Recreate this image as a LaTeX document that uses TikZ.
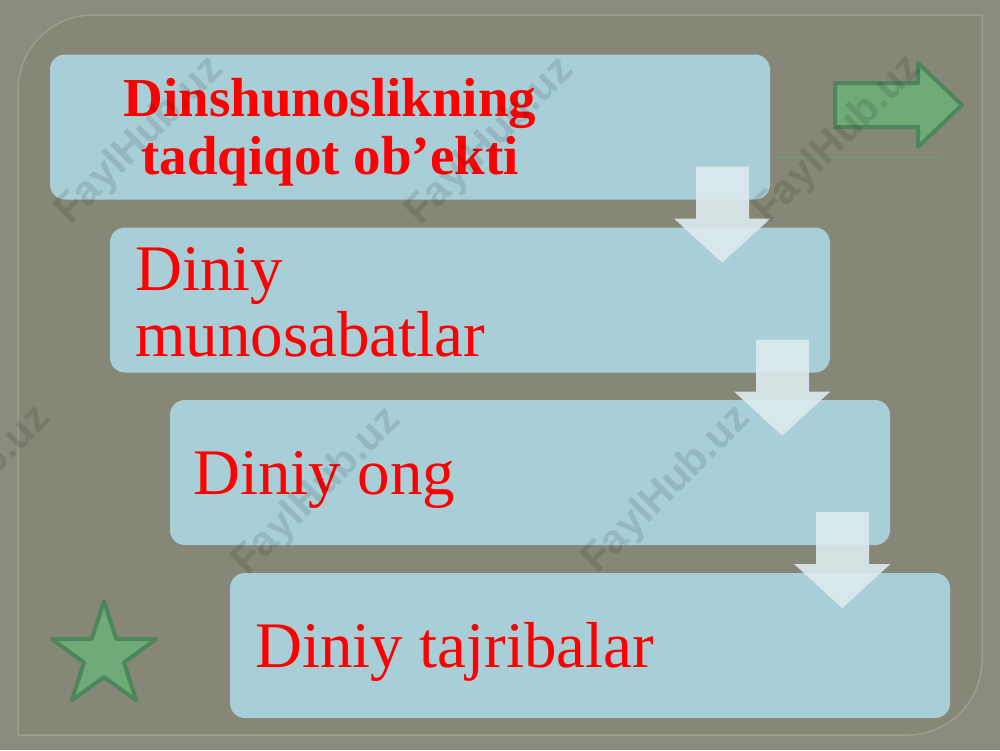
\documentclass[tikz,border=0pt]{standalone}
\usepackage{fontspec}
\setmainfont{Liberation Serif}
\setsansfont{Liberation Sans}
\usetikzlibrary{calc}
\definecolor{outerbg}{RGB}{139,139,127}
\definecolor{panelgray}{RGB}{135,135,119}
\definecolor{panelline}{RGB}{158,158,140}
\definecolor{boxblue}{RGB}{168,206,216}
\definecolor{arrowwhite}{RGB}{222,234,239}
\definecolor{shapegreen}{RGB}{112,170,120}
\definecolor{shapegreendark}{RGB}{78,134,92}
\definecolor{thinline}{RGB}{110,160,120}
\begin{document}
\begin{tikzpicture}[x=1pt,y=-1pt,
  box/.style={fill=boxblue, rounded corners=15pt, minimum width=720pt, minimum height=145pt, inner sep=0pt},
  bigtxt/.style={text=red, font=\fontsize{65}{65}\selectfont, inner sep=0pt, anchor=base west},
  boldtxt/.style={text=red, font=\fontsize{55}{58}\selectfont\bfseries, inner sep=0pt, anchor=base},
  flowarrow/.style={fill=arrowwhite, fill opacity=0.9},
  greenshape/.style={fill=shapegreen, draw=shapegreendark, line width=4pt, line join=round},
  wm/.style={font=\sffamily\bfseries\fontsize{41}{41}\selectfont, text=black, text opacity=0.11, rotate=45, inner sep=0pt},
  blockdown/.pic={\fill[flowarrow] (-74,-33) -- (-21,-33) -- (-21,19) -- (0,19) -- (-48,63) -- (-96,19) -- (-74,19) -- cycle;}
]
\useasboundingbox (0,0) rectangle (1000,750);
\fill[outerbg] (0,0) rectangle (1000,750);
% panel
\path[fill=panelgray, draw=panelline, line width=1.5pt]
  (18,90) .. controls (18,48.6) and (51.6,15) .. (93,15) -- (982,15) -- (982,660)
  .. controls (982,701.4) and (948.6,735) .. (907,735) -- (18,735) -- cycle;
\draw[thinline, line width=1pt] (773,157) -- (940,157);

% boxes
\node[box] (b1) at (410,127) {};
\node[box] (b2) at (470,300) {};
\node[box] (b3) at (530,472.5) {};
\node[box] (b4) at (590,645.5) {};

% texts
\node[boldtxt] (t1a) at (330,116) {Dinshunoslikning};
\node[boldtxt] (t1b) at (330,174) {tadqiqot ob’ekti};
\node[bigtxt] (t2a) at (135,290) {Diniy};
\node[bigtxt] (t2b) at (135,356) {munosabatlar};
\node[bigtxt] (t3) at (193,494) {Diniy ong};
\node[bigtxt] (t4) at (255,667) {Diniy tajribalar};

% block arrows between boxes
\pic at (b1.south east) {blockdown};
\pic at (b2.south east) {blockdown};
\pic at (b3.south east) {blockdown};

% green arrow
\draw[greenshape] (835,83) -- (918,83) -- (918,63) -- (962,105) -- (918,147) -- (918,127) -- (835,127) -- cycle;
% star
\draw[greenshape] (104,601) -- (116.3,639) -- (156.3,639) -- (124,662.5) -- (136.3,700.5)
  -- (104,677) -- (71.7,700.5) -- (84,662.5) -- (51.7,639) -- (91.7,639) -- cycle;

% watermarks
\node[wm] (w1) at (140,141) {FaylHub.uz};
\node[wm] (w2) at (490,142) {FaylHub.uz};
\node[wm] (w3) at (838,140) {FaylHub.uz};
\node[wm] (w4) at (-33,490) {FaylHub.uz};
\node[wm] (w5) at (317,492) {FaylHub.uz};
\node[wm] (w6) at (667,490) {FaylHub.uz};
\end{tikzpicture}
\end{document}
